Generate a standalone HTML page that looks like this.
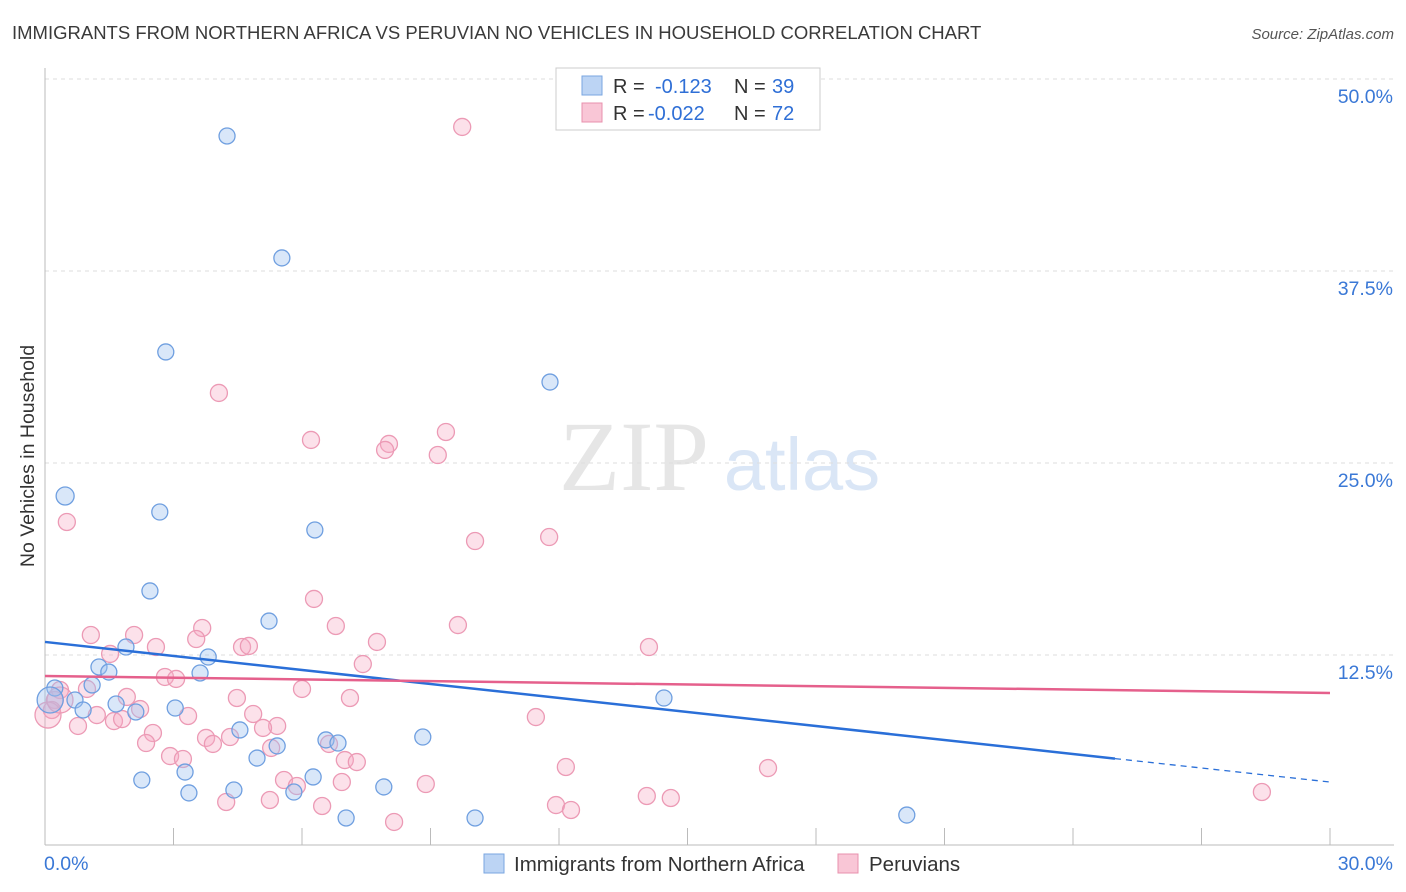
<!DOCTYPE html>
<html><head><meta charset="utf-8"><style>
body{margin:0;background:#fff;font-family:"Liberation Sans",sans-serif;}
</style></head><body>
<svg id="chart" width="1406" height="892" xmlns="http://www.w3.org/2000/svg" style="display:block">
<text x="12" y="39" font-size="18.5" fill="#3a3a3a">IMMIGRANTS FROM NORTHERN AFRICA VS PERUVIAN NO VEHICLES IN HOUSEHOLD CORRELATION CHART</text>
<text x="1394" y="39" font-size="15" fill="#555" font-style="italic" text-anchor="end">Source: ZipAtlas.com</text>
<text transform="translate(34,456) rotate(-90)" font-size="19.5" fill="#333" text-anchor="middle">No Vehicles in Household</text>
<g>
<text x="634" y="490" font-size="100" font-family="Liberation Serif,serif" fill="#e6e6e6" text-anchor="middle">ZIP</text>
<text x="802" y="490" font-size="74" fill="#dae6f6" text-anchor="middle">atlas</text>
</g>
<g id="grid"></g><g id="axes"></g><g id="pts"></g><g id="trend"></g>
<g>
<rect x="556" y="68" width="264" height="62" fill="#fff" stroke="#ccc"/>
<rect x="582" y="76" width="20" height="19" fill="#bcd4f4" stroke="#7aa6e0"/>
<rect x="582" y="103" width="20" height="19" fill="#f9c6d6" stroke="#e890ad"/>
<text x="613" y="93" font-size="20" fill="#333">R =</text><text x="655" y="93" font-size="20" fill="#2f6fd6">-0.123</text>
<text x="734" y="93" font-size="20" fill="#333">N =</text><text x="772" y="93" font-size="20" fill="#2f6fd6">39</text>
<text x="613" y="120" font-size="20" fill="#333">R =</text><text x="648" y="120" font-size="20" fill="#2f6fd6">-0.022</text>
<text x="734" y="120" font-size="20" fill="#333">N =</text><text x="772" y="120" font-size="20" fill="#2f6fd6">72</text>
</g>
<g>
<rect x="484" y="854" width="20" height="19" fill="#bcd4f4" stroke="#7aa6e0"/>
<text x="514" y="871" font-size="20.5" fill="#333">Immigrants from Northern Africa</text>
<rect x="838" y="854" width="20" height="19" fill="#f9c6d6" stroke="#e890ad"/>
<text x="869" y="871" font-size="20.5" fill="#333">Peruvians</text>
</g>
</svg>
<script>
const yTicks=[12.5,25.0,37.5,50.0];
const yTickLabels=["12.5%","25.0%","37.5%","50.0%"];
const xTickLabels=["0.0%","30.0%"];
const blueX=[4.25,5.53,2.82,11.79,0.47,2.68,6.30,2.45,5.23,1.89,3.81,1.26,1.49,3.62,1.10,0.23,0.70,0.89,1.66,2.12,3.04,14.45,4.55,8.82,6.56,6.84,5.42,4.95,3.27,2.26,6.26,4.41,7.91,3.36,5.81,7.03,10.04,20.12,0.12];
const blueY=[46.29,38.35,32.23,30.27,22.85,21.81,20.64,16.67,14.71,13.02,12.37,11.72,11.39,11.33,10.55,10.35,9.57,8.92,9.31,8.79,9.05,9.70,7.62,7.16,6.97,6.77,6.58,5.79,4.88,4.36,4.56,3.71,3.91,3.52,3.58,1.89,1.89,2.08,9.57];
const blueR=[8,8,8,8,9,8,8,8,8,8,8,8,8,8,8,8,8,8,8,8,8,8,8,8,8,8,8,8,8,8,8,8,8,8,8,8,8,8,13];
const pinkX=[9.74,4.06,0.51,6.21,8.03,7.94,9.36,9.17,10.04,11.77,6.28,3.67,6.79,9.64,7.75,1.07,2.08,3.53,4.60,4.76,2.59,14.10,1.52,7.42,2.80,3.06,6.00,0.98,1.91,4.48,7.12,0.35,0.23,0.16,2.22,3.34,1.21,4.86,11.46,1.61,1.80,5.42,5.09,0.77,2.52,3.76,4.32,2.36,3.92,5.28,6.63,7.00,2.92,3.22,7.28,12.16,16.88,5.58,5.88,6.93,8.89,4.23,5.25,6.47,11.93,12.28,14.05,14.61,8.15,28.41,0.07,0.35];
const pinkY=[46.88,29.56,21.16,26.50,26.24,25.85,27.02,25.52,19.92,20.18,16.15,14.26,14.39,14.45,13.35,13.80,13.80,13.54,13.02,13.09,13.02,13.02,12.57,11.91,11.07,10.94,10.29,10.29,9.77,9.70,9.70,10.22,9.57,8.92,8.98,8.53,8.59,8.66,8.46,8.20,8.33,7.88,7.75,7.88,7.42,7.10,7.16,6.77,6.71,6.45,6.71,5.66,5.92,5.73,5.53,5.21,5.14,4.36,3.97,4.23,4.10,2.93,3.06,2.67,2.73,2.41,3.32,3.19,1.63,3.58,8.59,9.57];
const blueTrend=[13.35,4.23]; const blueSolidEnd=24.98;
const pinkTrend=[11.13,10.03];
const X0=45,X1=1330,Y0=847,PXPER=192/12.5;
const sx=v=>X0+(v/30)*(X1-X0), sy=v=>Y0-v*PXPER;
const NS="http://www.w3.org/2000/svg";
function mk(tag,attrs,parent){const e=document.createElementNS(NS,tag);for(const k in attrs)e.setAttribute(k,attrs[k]);parent.appendChild(e);return e;}
const grid=document.getElementById('grid'),axes=document.getElementById('axes'),pts=document.getElementById('pts'),trend=document.getElementById('trend');
yTicks.forEach((t,i)=>{const g=mk('line',{x1:X0,x2:1394,y1:sy(t),y2:sy(t),stroke:'#ddd','stroke-dasharray':'4,4'},grid);

const tx=mk('text',{x:1393,y:sy(t)+24,'font-size':19.5,fill:'#3a78d6','text-anchor':'end'},axes);tx.textContent=yTickLabels[i];
});
const ax=mk('line',{x1:X0,x2:1394,y1:845,y2:845,stroke:'#bbb'},axes);

const ay=mk('line',{x1:X0,x2:X0,y1:68,y2:845,stroke:'#bbb'},axes);

for(let i=1;i<=10;i++){const l=mk('line',{x1:sx(i*3),x2:sx(i*3),y1:828,y2:845,stroke:'#bbb'},axes);
}
const xl0=mk('text',{x:44,y:870,'font-size':19.5,fill:'#3a78d6'},axes);xl0.textContent=xTickLabels[0];

const xl1=mk('text',{x:1393,y:870,'font-size':19.5,fill:'#3a78d6','text-anchor':'end'},axes);xl1.textContent=xTickLabels[1];

pinkX.forEach((x,i)=>{const r=(i>=70)?13:8.5;const c=mk('circle',{cx:sx(x),cy:sy(pinkY[i]),r:r,fill:'rgba(245,170,195,0.35)',stroke:'#ec9ab5','stroke-width':1.3},pts);
});
blueX.forEach((x,i)=>{const c=mk('circle',{cx:sx(x),cy:sy(blueY[i]),r:blueR[i],fill:'rgba(160,195,240,0.4)',stroke:'#6f9fe0','stroke-width':1.3},pts);
});
const by=x=>blueTrend[0]+(blueTrend[1]-blueTrend[0])*x/30;
const b1=mk('line',{x1:sx(0),y1:sy(by(0)),x2:sx(blueSolidEnd),y2:sy(by(blueSolidEnd)),stroke:'#2a6fd8','stroke-width':2.5},trend);

const b2=mk('line',{x1:sx(blueSolidEnd),y1:sy(by(blueSolidEnd)),x2:sx(30),y2:sy(by(30)),stroke:'#2a6fd8','stroke-width':1.3,'stroke-dasharray':'6,5'},trend);

const p1=mk('line',{x1:sx(0),y1:sy(pinkTrend[0]),x2:sx(30),y2:sy(pinkTrend[1]),stroke:'#e5608c','stroke-width':2.5},trend);

</script>
</body></html>
